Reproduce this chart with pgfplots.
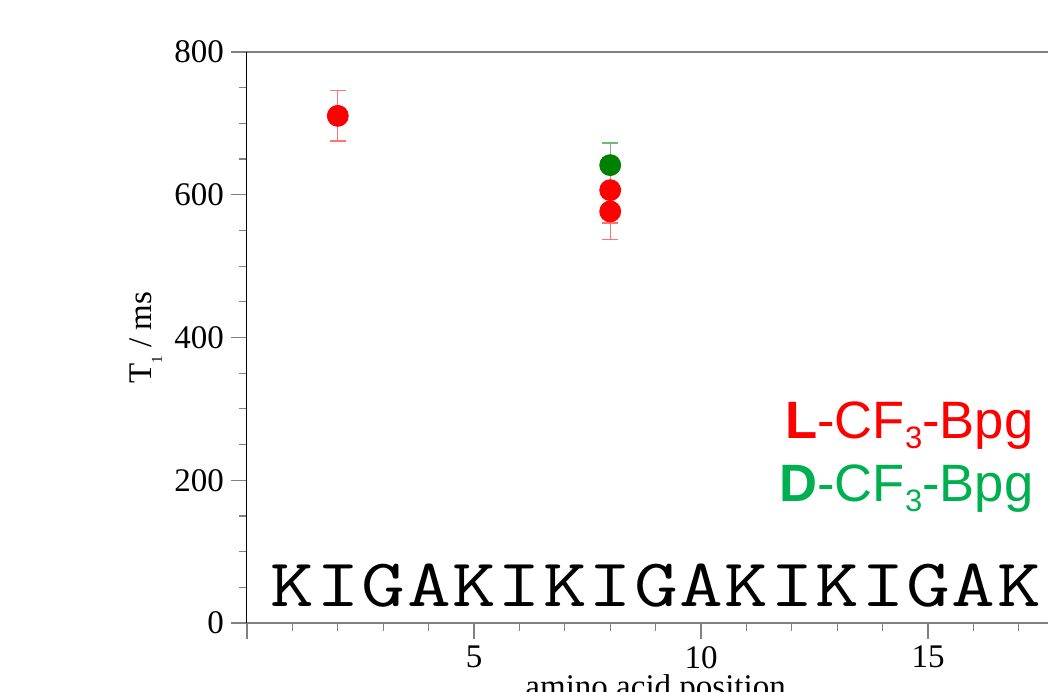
\documentclass[border=0pt]{standalone}
\usepackage{graphicx}
\usepackage{pgfplots}
\pgfplotsset{compat=1.18}
\usepackage{fontspec}
\setmainfont{Liberation Serif}
\newfontfamily\sansf{Liberation Sans}
\definecolor{lred}{RGB}{255,0,0}
\definecolor{lgreen}{RGB}{0,176,80}
\definecolor{mgreen}{RGB}{0,128,0}
\newcommand\sq[1]{\makebox[22.7pt]{\scalebox{1.25}[1]{#1}}}
\newcommand\labfont{\fontsize{16.5}{19}\selectfont}
\begin{document}
\begin{tikzpicture}
\useasboundingbox (-123.5pt,-34pt) rectangle (400.5pt,311.5pt);
\clip (-123.5pt,-34pt) rectangle (400.5pt,311.5pt);
\begin{axis}[
  scale only axis, width=408.6pt, height=285.5pt,
  xmin=0, xmax=18, ymin=0, ymax=800,
  separate axis lines,
  x axis line style={draw=gray, line width=1pt},
  y axis line style={draw=black, line width=0.5pt},
  tick align=outside,
  major tick length=8pt, minor tick length=4pt,
  tick style={draw=gray, line width=0.6pt},
  xtick pos=bottom, ytick pos=left,
  xtick={0,5,10,15,20}, xticklabels={,5,10,15,20},
  minor x tick num=4,
  ytick={0,200,400,600,800}, minor y tick num=3,
  /pgf/number format/assume math mode=true,
  tick label style={font=\labfont},
  xlabel={amino acid position},
  ylabel={T{\fontsize{7.5}{8}\selectfont\raisebox{-5pt}{1}} / ms},
  every axis x label/.style={at={(axis description cs:0.5,-0.1300)}, anchor=base, font=\labfont},
  every axis y label/.style={at={(axis description cs:-0.1163,0.5)}, rotate=90, anchor=base, font=\labfont},
  clip=false,
]
\addplot[only marks, mark=*, mark size=5.25pt, color=lred, mark options={fill=lred, draw=lred},
  error bars/.cd, y dir=both, y explicit,
  error bar style={draw=red!55, line width=0.6pt},
  error mark=|, error mark options={draw=red!55, line width=0.6pt, mark size=4pt}]
  coordinates {(2,710.5) +- (0,35.3) (8,606.4) +- (0,46) (8,576.6) +- (0,39)};
\addplot[only marks, mark=*, mark size=5.25pt, color=mgreen, mark options={fill=mgreen, draw=mgreen},
  error bars/.cd, y dir=both, y explicit,
  error bar style={draw=mgreen!55, line width=0.6pt},
  error mark=|, error mark options={draw=mgreen!55, line width=0.6pt, mark size=4pt}]
  coordinates {(8,641.5) +- (0,31)};
\node[anchor=base west, inner sep=0, font=\ttfamily\fontsize{34}{36}\selectfont] at (axis cs:0.5,23)
  {\sq{K}\sq{I}\sq{G}\sq{A}\sq{K}\sq{I}\sq{K}\sq{I}\sq{G}\sq{A}\sq{K}\sq{I}\sq{K}\sq{I}\sq{G}\sq{A}\sq{K}\sq{I}\sq{K}\sq{I}};
\node[anchor=base east, inner sep=0, text=lred, font=\sansf\fontsize{26.3}{30}\selectfont] at (axis cs:17.33,259) {\textbf{L}-CF{\fontsize{15.5}{16}\selectfont\raisebox{-5pt}{3}}-Bpg};
\node[anchor=base east, inner sep=0, text=lgreen, font=\sansf\fontsize{26.3}{30}\selectfont] at (axis cs:17.33,170) {\textbf{D}-CF{\fontsize{15.5}{16}\selectfont\raisebox{-5pt}{3}}-Bpg};
\end{axis}
\end{tikzpicture}
\end{document}
